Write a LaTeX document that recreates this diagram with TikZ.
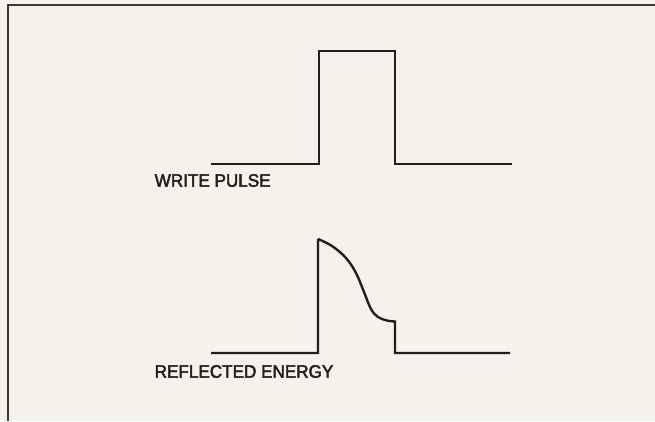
\documentclass[tikz,border=0pt]{standalone}
\usepackage{fontspec}
\setmainfont{Liberation Sans}
\newfontfamily\lblfont{Liberation Sans}[FakeBold=2.5, FakeStretch=0.95]
\begin{document}
\begin{tikzpicture}[x=1pt,y=-1pt,
  frameline/.style={draw=black!78, line width=2pt},
  wave/.style={draw=black!88, line width=2.4pt, line join=miter},
  lbl/.style={anchor=west, inner sep=0pt, font=\lblfont\fontsize{18}{18}\selectfont, text=black!88}]
\fill[fill={rgb,255:red,244;green,242;blue,236}] (0,0) rectangle (655,421);
\useasboundingbox (0,0) rectangle (655,421);
% frame
\draw[frameline] (7.5,421) -- (7.5,5) -- (655,5);
% write pulse
\draw[wave] (211,164) -- (319,164) -- (319,51) -- (395,51) -- (395,164) -- (512,164);
\node[lbl] (wp) at (154.5,180.5) {WRITE PULSE};
% reflected energy
\draw[wave] (211,353) -- (318,353) -- (318,239)
  plot[smooth, tension=0.6] coordinates {(318,239) (332,246) (346,258) (356,273) (364,292) (371,309) (378,317) (387,320.5) (395,321.5)}
  -- (395,353) -- (510,353);
\node[lbl] (re) at (154.5,371.5) {REFLECTED ENERGY};
\end{tikzpicture}
\end{document}
